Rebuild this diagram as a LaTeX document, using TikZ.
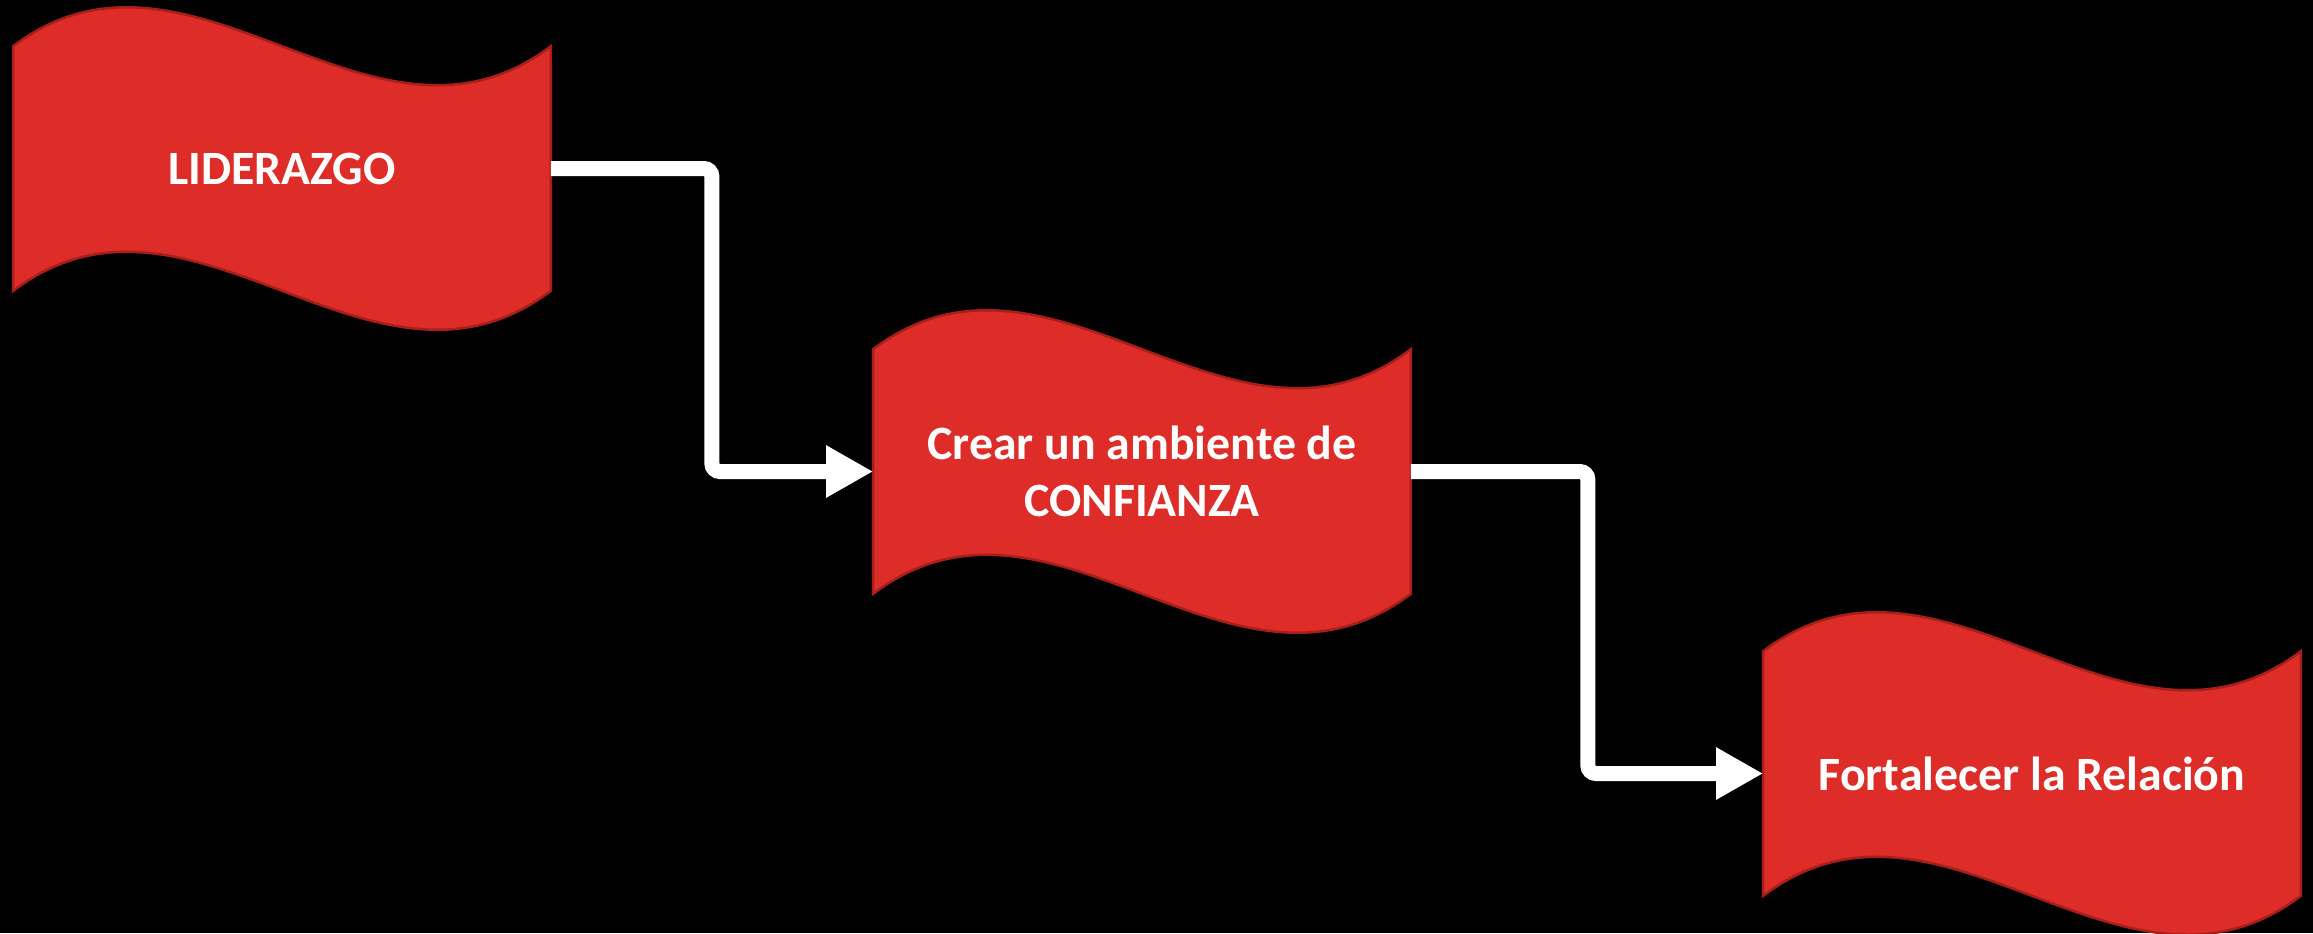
\documentclass[tikz,border=0pt]{standalone}
\usepackage{fontspec}
\setmainfont{Carlito}
\usetikzlibrary{arrows.meta,calc}
\definecolor{flagred}{RGB}{222,45,40}
\definecolor{flagedge}{RGB}{168,30,26}
\pgfdeclarelayer{bglayer}
\pgfdeclarelayer{flaglayer}
\pgfsetlayers{bglayer,flaglayer,main}
\tikzset{
  flagbox/.style={minimum width=5.36cm, minimum height=2.43cm, inner sep=0pt,
    text=white, font=\fontsize{13.6}{16}\selectfont\bfseries, align=center},
  flagshape/.style={fill=flagred, draw=flagedge, line width=0.025cm},
  conn/.style={draw=white, line width=0.15cm, rounded corners=0.08cm,
    -{Triangle[width=0.49cm,length=0.47cm]}},
}
\newcommand\drawflag[1]{%
  \begin{pgfonlayer}{flaglayer}
  \path[flagshape] (#1.north west)
    .. controls ($(#1.north west)+(178.67,-135)$) and ($(#1.north east)+(-178.67,135)$) .. (#1.north east)
    -- (#1.south east)
    .. controls ($(#1.south east)+(-178.67,135)$) and ($(#1.south west)+(178.67,-135)$) .. (#1.south west)
    -- cycle;
  \end{pgfonlayer}}
\begin{document}
\begin{tikzpicture}[x=0.01cm,y=-0.01cm]
  \begin{pgfonlayer}{bglayer}
    \fill[black] (0,0) rectangle (2313,933);
  \end{pgfonlayer}
  \useasboundingbox (0,0) rectangle (2313,933);
  \node[flagbox] (f1) at (282,168.5) {LIDERAZGO};
  \node[flagbox] (f2) at (1142,471.5) {Crear un ambiente de\\CONFIANZA};
  \node[flagbox] (f3) at (2032,773.5) {Fortalecer la Relación};
  \drawflag{f1}
  \drawflag{f2}
  \drawflag{f3}
  \draw[conn] (f1.east) -- ++(161,0) |- (f2.west);
  \draw[conn] (f2.east) -- ++(177,0) |- (f3.west);
\end{tikzpicture}
\end{document}
